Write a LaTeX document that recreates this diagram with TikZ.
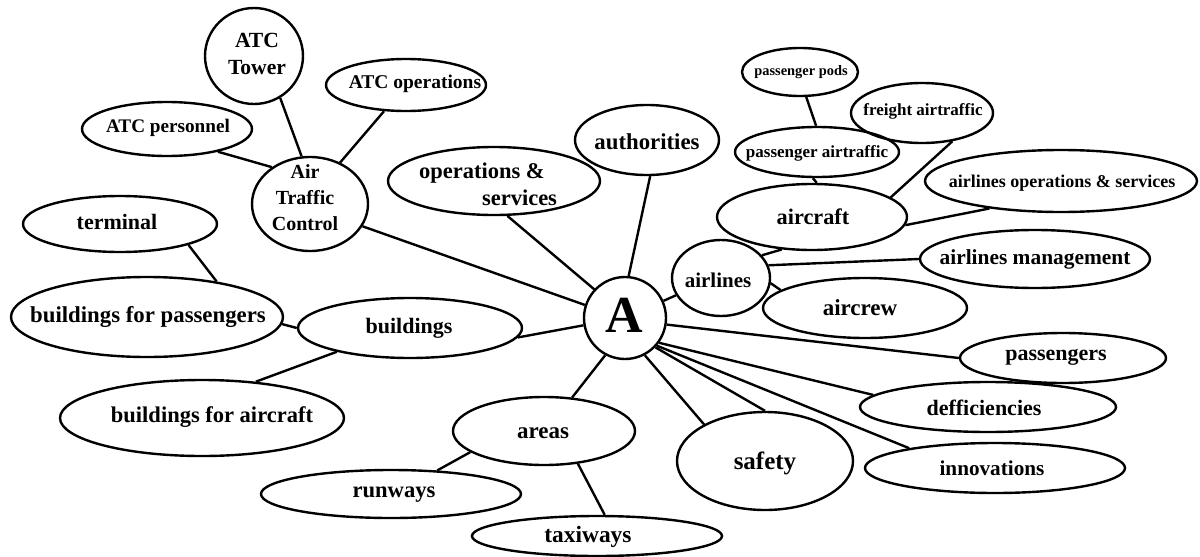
\documentclass[tikz,border=0pt]{standalone}
\usepackage{fontspec}
\setmainfont{Liberation Serif}
\usetikzlibrary{shapes.geometric}
\begin{document}
\begin{tikzpicture}[x=1pt,y=-1pt]
\tikzset{
  bub/.style={draw, ellipse, line width=2.4pt, inner sep=0pt},
  lbl/.style={inner sep=0pt, align=center, font=\bfseries\fontsize{#1}{#1}\selectfont},
  lbl/.default=22,
  link/.style={line width=2.4pt}
}
\useasboundingbox (0,0) rectangle (1200,557);
% bubbles
\node[bub,minimum width=98pt,minimum height=96pt] (atct) at (254,56) {};
\node[bub,minimum width=160pt,minimum height=52pt] (atco) at (406,85) {};
\node[bub,minimum width=170pt,minimum height=54pt] (atcp) at (167,129) {};
\node[bub,minimum width=116pt,minimum height=94pt] (atc) at (310,204) {};
\node[bub,minimum width=194pt,minimum height=56pt] (term) at (120,224) {};
\node[bub,minimum width=212pt,minimum height=68pt] (ops) at (494,181) {};
\node[bub,minimum width=144pt,minimum height=70pt] (auth) at (647,140) {};
\node[bub,minimum width=116pt,minimum height=48pt] (pods) at (800,72) {};
\node[bub,minimum width=142pt,minimum height=60pt] (freight) at (922,113) {};
\node[bub,minimum width=164pt,minimum height=50pt] (paxat) at (817,152) {};
\node[bub,minimum width=272pt,minimum height=62pt] (aos) at (1061,181) {};
\node[bub,minimum width=190pt,minimum height=66pt] (aircraft) at (812,217) {};
\node[bub,minimum width=98pt,minimum height=76pt] (airlines) at (721,278) {};
\node[bub,minimum width=204pt,minimum height=60pt] (aircrew) at (865,308) {};
\node[bub,minimum width=230pt,minimum height=58pt] (amgmt) at (1035,259) {};
\node[bub,minimum width=206pt,minimum height=50pt] (pax) at (1063,358) {};
\node[bub,minimum width=256pt,minimum height=50pt] (def) at (988,407) {};
\node[bub,minimum width=260pt,minimum height=50pt] (innov) at (995,468) {};
\node[bub,minimum width=176pt,minimum height=98pt] (safety) at (765,461) {};
\node[bub,circle,minimum size=82pt] (A) at (625,318) {};
\node[bub,minimum width=182pt,minimum height=68pt] (areas) at (544,431) {};
\node[bub,minimum width=260pt,minimum height=48pt] (runways) at (391,494) {};
\node[bub,minimum width=250pt,minimum height=40pt] (taxi) at (597,536) {};
\node[bub,minimum width=284pt,minimum height=76pt] (bfa) at (202,418) {};
\node[bub,minimum width=272pt,minimum height=80pt] (bfp) at (147,317) {};
\node[bub,minimum width=224pt,minimum height=60pt] (bldg) at (410,328) {};
% labels
\node[lbl=21.6] (atctT) at (257,54) {ATC\\[5.4pt]Tower};
\node[lbl=19.5] (atcoT) at (415,84) {ATC operations};
\node[lbl=19.2] (atcpT) at (168,128) {ATC personnel};
\node[lbl=20] (atcT) at (305,198) {Air\\[6pt]Traffic\\[6pt]Control};
\node[lbl=22] (termT) at (117,222) {terminal};
\node[lbl=22.5,align=left] (opsT) at (488,184) {operations \&\\[4.5pt]\hspace*{63pt}services};
\node[lbl=22.8] (authT) at (647,142) {authorities};
\node[lbl=14.4] (podsT) at (801,72) {passenger pods};
\node[lbl=17] (freightT) at (923,111) {freight airtraffic};
\node[lbl=17] (paxatT) at (817,153) {passenger airtraffic};
\node[lbl=18] (aosT) at (1062,183) {airlines operations \& services};
\node[lbl=22.3] (aircraftT) at (813,217) {aircraft};
\node[lbl=21] (airlinesT) at (718,280) {airlines};
\node[lbl=23] (aircrewT) at (860,308) {aircrew};
\node[lbl=21.4] (amgmtT) at (1035,259) {airlines management};
\node[lbl=22] (paxT) at (1056,357) {passengers};
\node[lbl=22] (defT) at (984,408) {defficiencies};
\node[lbl=21.2] (innovT) at (992,468) {innovations};
\node[lbl=25] (safetyT) at (765,463) {safety};
\node[lbl=52] (AT) at (624,315) {A};
\node[lbl=23] (areasT) at (543,433) {areas};
\node[lbl=22.6] (runwaysT) at (394,495) {runways};
\node[lbl=23.4] (taxiT) at (588,537) {taxiways};
\node[lbl=22.5] (bfaT) at (212,417) {buildings for aircraft};
\node[lbl=22.8] (bfpT) at (148,317) {buildings for passengers};
\node[lbl=22] (bldgT) at (409,328) {buildings};
% connectors
\draw[link] (atct.-58) -- (atc.100);
\draw[link] (atco.-130) -- (atc.54);
\draw[link] (atcp.-24) -- (atc.136);
\draw[link] (atc.-23) -- (A.162);
\draw[link] (ops.-69) -- (A.137);
\draw[link] (auth.-85) -- (A.85);
\draw[link] (term.-17) -- (bfp.27);
\draw[link] (bfp.-3) -- (bldg.180);
\draw[link] (bldg.-162) -- (bfa.34);
\draw[link] (bldg.-5) -- (A.-170);
\draw[link] (A.-118) -- (areas.50);
\draw[link] (areas.-164) -- (runways.27);
\draw[link] (areas.-44) -- (taxi.70);
\draw[link] (A.-62) -- (safety.149);
\draw[link] (A.-44) -- (safety.90);
\draw[link] (A.-36) -- (def.174);
\draw[link] (A.-41) -- (innov.167);
\draw[link] (A.-9) -- (pax.180);
\draw[link] (A.24) -- (airlines.-159);
\draw[link] (airlines.29) -- (aircraft.-133);
\draw[link] (airlines.15) -- (amgmt.180);
\draw[link] (airlines.-6) -- (aircrew.168);
\draw[link] (paxat.-99) -- (aircraft.82);
\draw[link] (pods.-76) -- (paxat.92);
\draw[link] (freight.-43) -- (aircraft.14);
\draw[link] (aos.-159) -- (aircraft.-5);
\end{tikzpicture}
\end{document}
